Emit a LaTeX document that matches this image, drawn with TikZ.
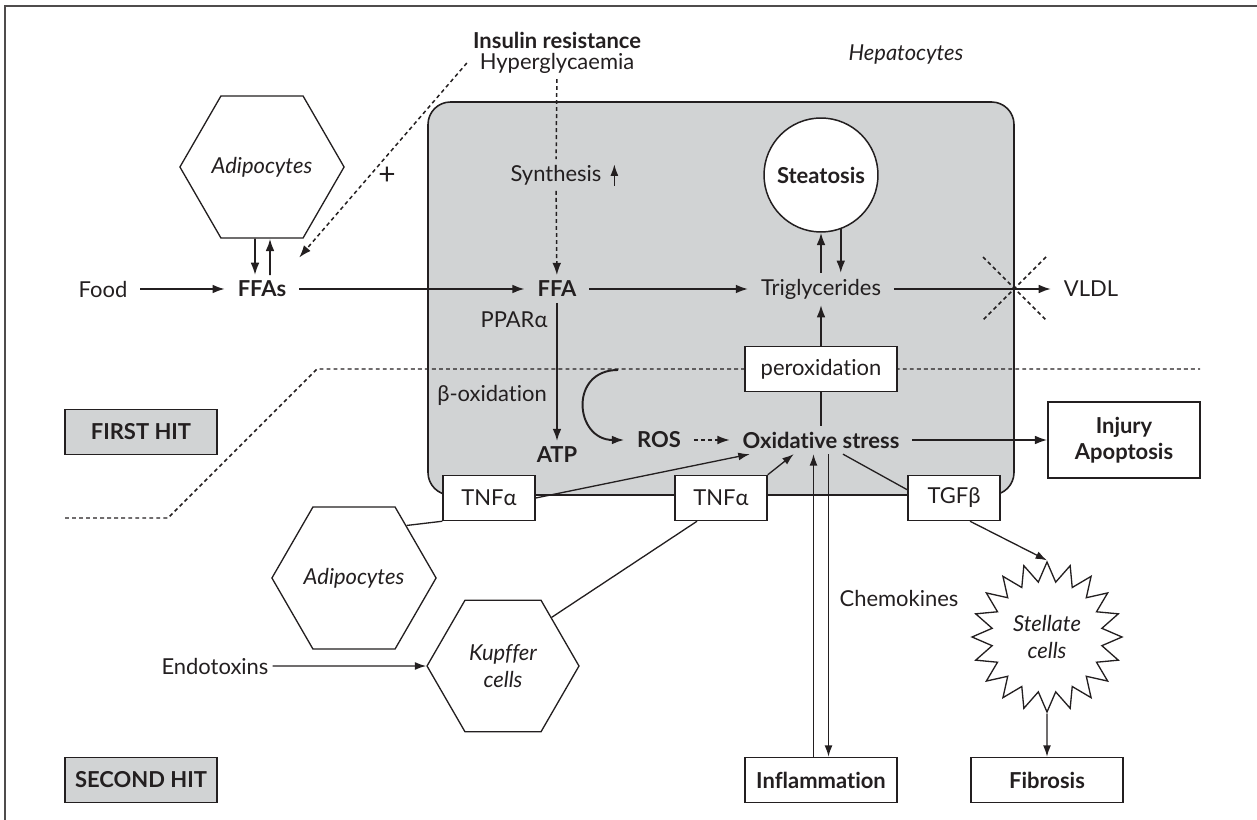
\documentclass[tikz,border=0pt]{standalone}
\usepackage{fontspec}
\setmainfont{Lato}[Ligatures=NoCommon,Contextuals=NoAlternate]
\usepackage{tikz}
\usetikzlibrary{arrows.meta,shapes.geometric,calc}
\definecolor{cellgray}{HTML}{D1D3D4}
\definecolor{ink}{HTML}{231F20}
\newcommand{\fs}{\fontsize{12.5}{15}\selectfont}

\begin{document}
\begin{tikzpicture}[x=0.02cm,y=-0.02cm,color=ink,font=\fs,line width=0.75pt,
  txt/.style={inner xsep=7pt,inner ysep=3pt},
  bold/.style={font=\fs\bfseries},
  box/.style={draw,fill=white,line width=0.85pt,minimum width=3.04cm,minimum height=0.9cm,inner sep=2pt},
  smallbox/.style={box,minimum width=1.84cm},
  hitbox/.style={box,fill=cellgray,bold},
  hexa/.style={draw,fill=white,regular polygon,regular polygon sides=6,minimum size=3.04cm,inner sep=0pt,font=\fs\itshape,align=center},
  arr/.style={-{Latex[length=7pt,width=5pt]},line width=1.1pt},
  thinarr/.style={-{Latex[length=6.5pt,width=4.5pt]},line width=0.75pt},
  dots/.style={dash pattern=on 2.2pt off 1.8pt,line width=0.85pt}]
  \useasboundingbox (0,0) rectangle (1257,820);
  \draw[line width=0.6pt,ink!80] (5,830) -- (5,6) -- (1270,6);

  % hepatocyte and the line between the two hits
  \draw[fill=cellgray,line width=0.9pt,rounded corners=0.45cm] (428,102) rectangle (1014,495);
  \draw[dots] (65,518) -- (168,518) -- (317,369) -- (1200,369);
  \draw[dots] (983,257) -- (1046,320); \draw[dots] (1046,257) -- (983,320);

  \node[font=\fs\bfseries] (insul) at (557,40) {Insulin resistance};
  \node[txt] (hyper) at (557,63) {Hyperglycaemia};
  \node[font=\fs\itshape] (hepa) at (906,55) {Hepatocytes};
  \node[hexa] (adipa) at (262,167) {Adipocytes};
  \node[font=\fontsize{17}{17}\selectfont] (plus) at (387,176) {+};
  \node[txt] (synth) at (556,175) {Synthesis};
  \node[circle,draw,fill=white,minimum size=2.28cm,line width=0.85pt,bold] (steat) at (821,175) {Steatosis};
  \node[txt] (food) at (103,289) {Food};
  \node[txt,bold] (ffas) at (262,289) {FFAs};
  \node[txt,bold] (ffa) at (557,289) {FFA};
  \node[txt] (trig) at (821,289) {Triglycerides};
  \node[txt] (vldl) at (1091,289) {VLDL};
  \node[txt] (ppar) at (514,320) {PPARα};
  \node[txt] (beta) at (492,395) {β-oxidation};
  \node[box] (perox) at (821,369) {peroxidation};
  \node[txt,bold] (atp) at (557,455) {ATP};
  \node[txt,bold] (ros) at (659,440) {ROS};
  \node[txt,bold] (ox) at (821,440) {Oxidative stress};
  \node[box,bold,minimum height=1.52cm,align=center] (injury) at (1124,440) {Injury\\Apoptosis};
  \node[hitbox] (first) at (141,432) {FIRST HIT};
  \node[hitbox] (second) at (141,780) {SECOND HIT};
  \node[smallbox] (tnfa) at (489,498) {TNFα};
  \node[smallbox] (tnfb) at (721,498) {TNFα};
  \node[smallbox] (tgfb) at (954,498) {TGFβ};
  \node[hexa] (adipb) at (354,578) {Adipocytes};
  \node[hexa] (kupffer) at (503,666) {Kupffer\\cells};
  \node[txt,inner xsep=2pt] (endo) at (215,666) {Endotoxins};
  \node[txt] (chemo) at (899,598) {Chemokines};
  \node[star,star points=20,star point ratio=1.35,minimum size=3cm,draw,fill=white,inner sep=0pt,font=\fs\itshape,align=center] (stellate) at (1047,637) {Stellate\\cells};
  \node[box,bold] (infl) at (821,780) {Inflammation};
  \node[box,bold] (fibro) at (1047,780) {Fibrosis};
  \coordinate (cst) at (618,370);

  \draw[arr] (food) -- (ffas); \draw[arr] (ffas) -- (ffa);
  \draw[arr] (ffa) -- (trig); \draw[arr] (trig) -- (vldl);
  \draw[arr] ([xshift=-0.14cm]adipa.south) -- ([xshift=-0.14cm]ffas.north);
  \draw[arr] ([xshift=0.16cm]ffas.north) -- ([xshift=0.16cm]adipa.south);
  \draw[arr,dots] (hyper.west) -- ([yshift=0.35cm]ffas.north east);
  \draw[dots] (hyper) -- (synth); \draw[arr,dots] (synth) -- (ffa);
  \draw[thinarr] ([yshift=3pt]synth.south east) -- ([yshift=-3pt]synth.north east);
  \draw[arr] (trig) -- (steat); \draw[arr] (steat.-70) -- (steat.-70 |- trig.north);
  \draw[arr] (ffa) -- (atp);
  \draw[arr] (cst) to[out=180,in=180,looseness=1.8] (ros.west);
  \draw[arr,dots] (ros) -- (ox);
  \draw[line width=1.1pt] (ox) -- (perox); \draw[arr] (perox) -- (trig);
  \draw[arr] (ox) -- (injury);
  \draw[thinarr] (tnfa.east) -- ([xshift=0.4cm]ox.south west);
  \draw[thinarr] (tnfb.north east) -- ([xshift=1.28cm]ox.south west);
  \draw (tnfa.south west) -- (adipb.north east);
  \draw ([xshift=-0.48cm]tnfb.south) -- (kupffer.north east);
  \draw[thinarr] (endo) -- (kupffer);
  \draw[thinarr] ([xshift=-0.15cm]infl.north) -- ([xshift=-0.15cm]ox.south);
  \draw[thinarr] ([xshift=0.15cm]ox.south) -- ([xshift=0.15cm]infl.north);
  \draw ([xshift=0.44cm]ox.south) -- (tgfb.170);
  \draw[thinarr] ([xshift=0.32cm]tgfb.south) -- (stellate.north);
  \draw[thinarr] (stellate.south) -- (fibro.north);
\end{tikzpicture}
\end{document}
